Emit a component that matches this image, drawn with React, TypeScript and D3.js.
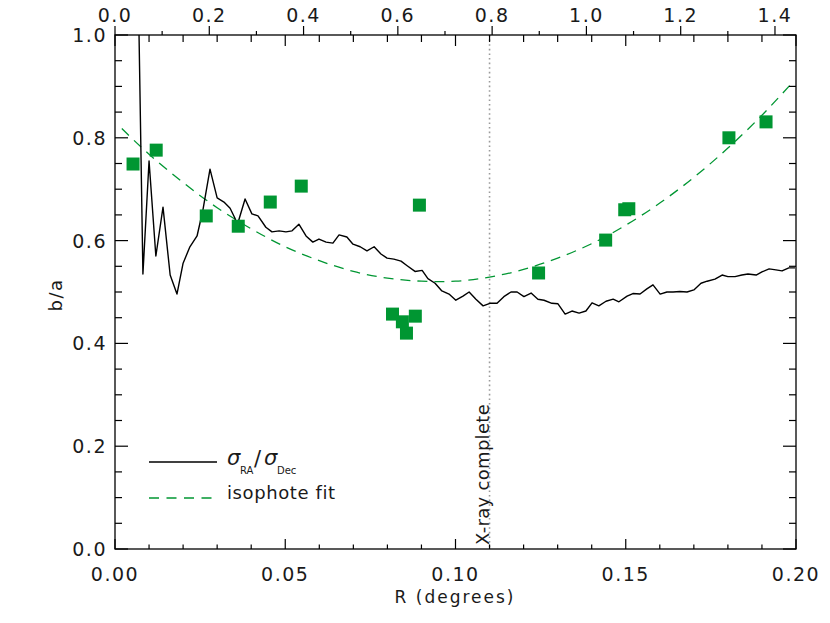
import React from "react";
import * as d3 from "d3";

// ---- Data ----
const ratioX = [0.0062, 0.0082, 0.0100, 0.0120, 0.0141, 0.0162, 0.0182, 0.0200, 0.0220, 0.0241, 0.0258, 0.0279, 0.0300, 0.0320, 0.0338, 0.0352, 0.0359, 0.0382, 0.0402, 0.0420, 0.0443, 0.0461, 0.0482, 0.0502, 0.0520, 0.0540, 0.0561, 0.0581, 0.0599, 0.0620, 0.0640, 0.0658, 0.0681, 0.0699, 0.0720, 0.0740, 0.0761, 0.0781, 0.0799, 0.0819, 0.0840, 0.0858, 0.0881, 0.0902, 0.0919, 0.0940, 0.0960, 0.0981, 0.1001, 0.1022, 0.1040, 0.1060, 0.1081, 0.1101, 0.1122, 0.1142, 0.1163, 0.1181, 0.1201, 0.1222, 0.1242, 0.1260, 0.1283, 0.1301, 0.1322, 0.1342, 0.1363, 0.1383, 0.1401, 0.1421, 0.1442, 0.1463, 0.1480, 0.1504, 0.1521, 0.1542, 0.1562, 0.1580, 0.1601, 0.1621, 0.1639, 0.1659, 0.1680, 0.1700, 0.1721, 0.1739, 0.1762, 0.1783, 0.1800, 0.1821, 0.1841, 0.1859, 0.1883, 0.1900, 0.1921, 0.1941, 0.1959, 0.1979, 0.1997];
const ratioY = [1.35, 0.535, 0.755, 0.570, 0.665, 0.533, 0.496, 0.556, 0.588, 0.609, 0.659, 0.739, 0.683, 0.675, 0.663, 0.644, 0.630, 0.681, 0.652, 0.648, 0.626, 0.617, 0.619, 0.617, 0.619, 0.632, 0.609, 0.597, 0.603, 0.597, 0.595, 0.611, 0.607, 0.593, 0.588, 0.580, 0.588, 0.574, 0.566, 0.564, 0.560, 0.551, 0.540, 0.542, 0.526, 0.517, 0.502, 0.496, 0.484, 0.492, 0.500, 0.486, 0.473, 0.478, 0.478, 0.491, 0.500, 0.500, 0.491, 0.498, 0.486, 0.484, 0.478, 0.477, 0.457, 0.463, 0.459, 0.463, 0.479, 0.473, 0.482, 0.486, 0.481, 0.492, 0.497, 0.496, 0.506, 0.514, 0.496, 0.500, 0.500, 0.501, 0.500, 0.504, 0.517, 0.521, 0.525, 0.533, 0.530, 0.530, 0.533, 0.535, 0.533, 0.539, 0.545, 0.543, 0.541, 0.547, 0.547];

const fitX = [0.002, 0.01, 0.02, 0.03, 0.04, 0.05, 0.06, 0.07, 0.08, 0.09, 0.10, 0.11, 0.12, 0.13, 0.14, 0.15, 0.16, 0.17, 0.18, 0.19, 0.199];
const fitY = [0.818, 0.768, 0.713, 0.664, 0.623, 0.588, 0.561, 0.540, 0.527, 0.521, 0.521, 0.529, 0.544, 0.566, 0.594, 0.630, 0.673, 0.723, 0.780, 0.844, 0.908];

const isoX = [0.0053, 0.0121, 0.0268, 0.0362, 0.0456, 0.0547, 0.0815, 0.0844, 0.0856, 0.0882, 0.0894, 0.1244, 0.1441, 0.1497, 0.1509, 0.1803, 0.1912];
const isoY = [0.749, 0.776, 0.648, 0.628, 0.675, 0.706, 0.457, 0.442, 0.420, 0.453, 0.669, 0.537, 0.601, 0.660, 0.662, 0.800, 0.831];

const xrayComplete = 0.11;
const xDomain = [0, 0.2];
const yDomain = [0, 1];
const topDomain = [0, 1.4446];
const bottomTicks = [0, 0.05, 0.1, 0.15, 0.2];
const leftTicks = [0, 0.2, 0.4, 0.6, 0.8, 1.0];
const topTicks = [0, 0.2, 0.4, 0.6, 0.8, 1.0, 1.2, 1.4];

const L = 115, R = 796, T = 35, B = 549;
const GREEN = "#009632";
const TXT = "#1a1a1a";
const FONT = "'DejaVu Sans', sans-serif";

export default function App() {
  const x = d3.scaleLinear().domain(xDomain).range([L, R]);
  const y = d3.scaleLinear().domain(yDomain).range([B, T]);
  const xt = d3.scaleLinear().domain(topDomain).range([L, R]);

  const ratioData = ratioX.map((v, i) => [v, ratioY[i]] as [number, number]);
  const fitData = fitX.map((v, i) => [v, fitY[i]] as [number, number]);
  const line = d3.line<[number, number]>().x(d => x(d[0])).y(d => y(d[1]));
  const fitLine = d3.line<[number, number]>().x(d => x(d[0])).y(d => y(d[1])).curve(d3.curveNatural);

  const xMinor = d3.range(0, 21).map(i => i * 0.01);
  const yMinor = d3.range(0, 21).map(i => i * 0.05);
  const topMinor = d3.range(0, 15).map(i => i * 0.1);

  const fmt2 = d3.format(".2f");
  const fmt1 = d3.format(".1f");
  const sq = 13;

  return (
    <svg width={830} height={623} style={{ position: "absolute", left: 0, top: 0, background: "#fff" }} fontFamily={FONT}>
      <defs>
        <clipPath id="plot"><rect x={L} y={T} width={R - L} height={B - T} /></clipPath>
      </defs>
      <rect x={0} y={0} width={830} height={623} fill="#fff" />

      {/* dotted x-ray complete line */}
      <line x1={x(xrayComplete)} x2={x(xrayComplete)} y1={T} y2={B} stroke="#9a9a9a" strokeWidth={1.6} strokeDasharray="1.6,3" />
      <text transform={`translate(${x(xrayComplete) - 1},${B - 4}) rotate(-90)`} fontSize={18} letterSpacing={0.3} fill={TXT}>X-ray complete</text>

      <g clipPath="url(#plot)">
        <path d={fitLine(fitData) || ""} fill="none" stroke={GREEN} strokeWidth={1.3} strokeDasharray="10,7" />
        <path d={line(ratioData) || ""} fill="none" stroke="#000" strokeWidth={1.4} strokeLinejoin="round" />
        {isoX.map((v, i) => (
          <rect key={i} x={x(v) - sq / 2} y={y(isoY[i]) - sq / 2} width={sq} height={sq} fill={GREEN} />
        ))}
      </g>

      {/* frame */}
      <rect x={L} y={T} width={R - L} height={B - T} fill="none" stroke="#000" strokeWidth={1.3} />

      {/* bottom axis ticks (and mirrored on top, inward) */}
      {xMinor.map((v, i) => {
        const major = i % 5 === 0;
        return (
          <g key={"xb" + i}>
            <line x1={x(v)} x2={x(v)} y1={B} y2={B - (major ? 10 : 4.5)} stroke="#000" strokeWidth={1.2} />
            <line x1={x(v)} x2={x(v)} y1={T} y2={T + (major ? 11 : 7)} stroke="#000" strokeWidth={1.2} />
          </g>
        );
      })}
      {bottomTicks.map((v, i) => (
        <text key={"xl" + i} x={x(v)} y={581} textAnchor="middle" fontSize={19} letterSpacing={1.5} fill={TXT}>{fmt2(v)}</text>
      ))}

      {/* top axis (outward ticks) */}
      {topMinor.filter(v => v <= topDomain[1]).map((v, i) => {
        const major = i % 2 === 0;
        return <line key={"xt" + i} x1={xt(v)} x2={xt(v)} y1={T} y2={T - (major ? 9 : 4)} stroke="#000" strokeWidth={1.2} />;
      })}
      {topTicks.map((v, i) => (
        <text key={"tl" + i} x={xt(v)} y={22} textAnchor="middle" fontSize={19} letterSpacing={1.5} fill={TXT}>{fmt1(v)}</text>
      ))}

      {/* left & right axis ticks */}
      {yMinor.map((v, i) => {
        const major = i % 4 === 0;
        const len = major ? 13 : 7;
        return (
          <g key={"y" + i}>
            <line x1={L} x2={L + len} y1={y(v)} y2={y(v)} stroke="#000" strokeWidth={1.2} />
            <line x1={R} x2={R - len} y1={y(v)} y2={y(v)} stroke="#000" strokeWidth={1.2} />
          </g>
        );
      })}
      {leftTicks.map((v, i) => (
        <text key={"yl" + i} x={107} y={y(v) + 7} textAnchor="end" fontSize={19} letterSpacing={1.5} fill={TXT}>{fmt1(v)}</text>
      ))}

      {/* axis titles */}
      <text x={455} y={603} textAnchor="middle" fontSize={17} letterSpacing={2} fill={TXT}>R (degrees)</text>
      <text transform={`translate(62,295) rotate(-90)`} textAnchor="middle" fontSize={18} letterSpacing={1.5} fill={TXT}>b/a</text>

      {/* legend */}
      <line x1={149} x2={217} y1={462} y2={462} stroke="#000" strokeWidth={1.4} />
      <text fill={TXT}>
        <tspan x={227} y={465} fontSize={21} fontStyle="italic">σ</tspan>
        <tspan x={240} y={474} fontSize={10}>RA</tspan>
        <tspan x={254} y={466} fontSize={21}>/</tspan>
        <tspan x={264} y={465} fontSize={21} fontStyle="italic">σ</tspan>
        <tspan x={277} y={474} fontSize={10}>Dec</tspan>
      </text>
      <line x1={149} x2={217} y1={498} y2={498} stroke={GREEN} strokeWidth={1.3} strokeDasharray="10,7.5" />
      <text x={227} y={499} fontSize={18} letterSpacing={0.6} fill={TXT}>isophote fit</text>
    </svg>
  );
}
